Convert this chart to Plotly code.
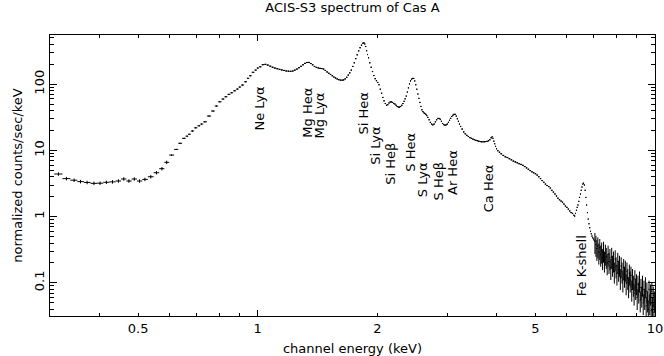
import numpy as np
import plotly.graph_objects as go

# ---------------- data ----------------
e_soft = [0.315, 0.330, 0.345, 0.358, 0.372, 0.387, 0.401, 0.416, 0.431, 0.446,
          0.460, 0.474, 0.489, 0.504, 0.520, 0.538, 0.556, 0.574, 0.590]
c_soft = [4.4, 3.75, 3.55, 3.38, 3.28, 3.18, 3.2, 3.3, 3.35, 3.45,
          3.7, 3.45, 3.7, 3.45, 3.65, 4.0, 4.6, 5.3, 6.6]

e_mid = [0.607, 0.625, 0.637, 0.653, 0.664, 0.672, 0.685, 0.698, 0.712, 0.722,
         0.736, 0.754, 0.772, 0.787, 0.803, 0.818, 0.831, 0.847, 0.860, 0.875,
         0.889, 0.901, 0.915, 0.933, 0.945, 0.958, 0.973, 0.989,
         1.000, 1.015, 1.030, 1.045, 1.060, 1.075, 1.090, 1.105, 1.120, 1.135,
         1.150, 1.165, 1.180, 1.195, 1.210, 1.225, 1.240, 1.255, 1.270, 1.285,
         1.300, 1.315, 1.330, 1.345, 1.360, 1.375, 1.390, 1.405, 1.420, 1.435,
         1.450, 1.465, 1.480, 1.495, 1.510, 1.525, 1.540, 1.555, 1.570, 1.585,
         1.600, 1.615, 1.630, 1.645, 1.660, 1.675, 1.690, 1.705, 1.720, 1.735,
         1.750, 1.765, 1.780, 1.795, 1.810, 1.825, 1.840, 1.850, 1.860, 1.870,
         1.880, 1.890, 1.900, 1.915, 1.930, 1.945, 1.960, 1.975, 1.990, 2.005,
         2.020, 2.035, 2.050, 2.065, 2.080, 2.095, 2.110, 2.125, 2.140, 2.155,
         2.170, 2.185, 2.200, 2.215, 2.230, 2.245, 2.260, 2.275, 2.290, 2.305,
         2.320, 2.335, 2.350, 2.365, 2.380, 2.395, 2.410, 2.425, 2.440, 2.455,
         2.470, 2.485, 2.500, 2.515, 2.530, 2.545, 2.560, 2.575, 2.590, 2.605,
         2.620, 2.635, 2.650, 2.665, 2.680, 2.700, 2.720, 2.740, 2.760, 2.780,
         2.800, 2.820, 2.840, 2.860, 2.880, 2.900, 2.920, 2.940, 2.960, 2.980,
         3.000, 3.020, 3.040, 3.060, 3.080, 3.100, 3.120, 3.140, 3.160, 3.180,
         3.200, 3.220, 3.240, 3.270, 3.300, 3.330, 3.360, 3.390, 3.420, 3.450,
         3.480, 3.510, 3.540, 3.570, 3.600, 3.630, 3.660, 3.690, 3.720, 3.750,
         3.780, 3.810, 3.840, 3.870, 3.890, 3.910, 3.930, 3.950, 3.970, 3.990,
         4.020, 4.060, 4.100, 4.150, 4.200, 4.250, 4.300, 4.350, 4.400, 4.450,
         4.500, 4.550, 4.600, 4.650, 4.700, 4.750, 4.800, 4.850, 4.900, 4.950,
         5.000, 5.050, 5.100, 5.150, 5.200, 5.250, 5.300, 5.350, 5.400, 5.450,
         5.500, 5.550, 5.600, 5.650, 5.700, 5.750, 5.800, 5.850, 5.900, 5.950,
         6.000, 6.050, 6.100, 6.150, 6.200, 6.250, 6.280, 6.310, 6.340, 6.370,
         6.400, 6.430, 6.460, 6.490, 6.520, 6.550, 6.580, 6.610, 6.640, 6.670,
         6.700, 6.730, 6.760, 6.790, 6.820, 6.850, 6.880, 6.910, 6.940, 6.970,
         7.000, 7.030]
c_mid = [8.5, 10.35, 12.8, 15.2, 16.4, 17.5, 19.6, 21.9, 23.5, 25.0,
         27.0, 33.0, 39.3, 46.7, 54.2, 59.6, 64.5, 70.1, 74.2, 79.5,
         84.3, 90.4, 96.9, 108.7, 122.4, 134, 151, 163,
         175, 183, 197, 199, 194, 187, 180, 175, 171, 167,
         164, 161, 158, 157, 156, 158, 163, 169, 177, 186,
         196, 206, 212, 213, 205, 196, 185, 179, 176, 173,
         172, 169, 161, 153, 146, 140, 134, 128, 124, 120,
         117, 115, 115, 116, 120, 127, 137, 148, 163, 185,
         210, 243, 277, 318, 355, 388, 415, 422, 405, 370,
         320, 280, 250, 210, 180, 155, 135, 121, 113, 106,
         98, 84, 73, 63, 56, 51, 48, 49, 52, 54,
         54, 53, 51, 50, 48, 46, 45, 45, 46, 48,
         51, 55, 60, 66, 76, 88, 101, 112, 119, 122,
         122, 112, 98, 84, 71, 61, 53, 46, 41, 38.5,
         37, 36, 35, 33.5, 31.5, 29, 26.5, 25, 24.3, 25,
         27, 29, 30.3, 30.4, 29.5, 27.5, 25.5, 24.5, 24, 24.3,
         25, 26.5, 28.5, 30.5, 32.5, 34, 35, 35, 33, 30,
         27.5, 25, 23, 21, 19, 17.8, 16.9, 16.2, 15.6, 15.2,
         14.8, 14.5, 14.2, 14.0, 13.8, 13.6, 13.5, 13.5, 13.5, 13.6,
         13.7, 14.0, 14.5, 15.5, 16.0, 15.2, 13.8, 12.6, 11.5, 10.6,
         9.9, 9.4, 8.9, 8.4, 8.0, 7.8, 7.5, 7.2, 6.9, 6.7,
         6.5, 6.3, 6.15, 5.95, 5.7, 5.45, 5.2, 4.95, 4.75, 4.6,
         4.45, 4.25, 4.0, 3.75, 3.5, 3.3, 3.1, 2.95, 2.85, 2.7,
         2.5, 2.35, 2.2, 2.05, 1.9, 1.8, 1.72, 1.65, 1.55, 1.45,
         1.38, 1.3, 1.22, 1.15, 1.12, 1.05, 1.02, 1.12, 1.25, 1.38,
         1.5, 1.7, 1.95, 2.2, 2.5, 2.8, 3.1, 3.2, 3.0, 2.5,
         1.95, 1.5, 1.15, 0.92, 0.78, 0.68, 0.6, 0.55, 0.51, 0.48,
         0.46, 0.44]

e_hard = [7.06, 7.10, 7.14, 7.18, 7.22, 7.26, 7.30, 7.34, 7.38, 7.42,
          7.46, 7.50, 7.54, 7.58, 7.62, 7.66, 7.70, 7.74, 7.78, 7.82,
          7.86, 7.90, 7.94, 7.98, 8.02, 8.06, 8.10, 8.14, 8.18, 8.22,
          8.26, 8.30, 8.34, 8.38, 8.42, 8.46, 8.50, 8.54, 8.58, 8.62,
          8.66, 8.70, 8.74, 8.78, 8.82, 8.86, 8.90, 8.94, 8.98, 9.02,
          9.06, 9.10, 9.14, 9.18, 9.22, 9.26, 9.30, 9.34, 9.38, 9.42,
          9.46, 9.50, 9.54, 9.58, 9.62, 9.66, 9.70, 9.74, 9.78, 9.82,
          9.86, 9.90, 9.94, 9.98]
c_hard = [0.42, 0.38, 0.33, 0.36, 0.29, 0.34, 0.27, 0.30, 0.24, 0.31,
          0.22, 0.28, 0.25, 0.20, 0.27, 0.21, 0.24, 0.17, 0.25, 0.19,
          0.22, 0.15, 0.23, 0.18, 0.14, 0.21, 0.16, 0.19, 0.12, 0.18,
          0.15, 0.11, 0.17, 0.13, 0.16, 0.10, 0.15, 0.12, 0.09, 0.14,
          0.11, 0.13, 0.08, 0.12, 0.095, 0.07, 0.115, 0.085, 0.10, 0.06,
          0.095, 0.075, 0.11, 0.055, 0.085, 0.065, 0.095, 0.05, 0.08, 0.06,
          0.09, 0.045, 0.075, 0.055, 0.04, 0.08, 0.05, 0.07, 0.038, 0.075,
          0.045, 0.065, 0.036, 0.055]

# relative 1-sigma errors (percent) per segment
err_soft, err_mid, err_hard = 6, 2, 35

line_names = ["Ne Lyα", "Mg Heα", "Mg Lyα", "Si Heα", "Si Lyα", "Si Heβ",
              "S Heα", "S Lyα", "S Heβ", "Ar Heα", "Ca Heα", "Fe K-shell"]
line_energy = [1.01, 1.335, 1.43, 1.845, 1.97, 2.15, 2.42, 2.60, 2.85, 3.09, 3.80, 6.53]
line_base = [18.9, 14.3, 14.3, 16.4, 5.6, 2.8, 4.4, 1.84, 1.66, 1.97, 1.09, 0.0587]

x_ticks = [0.5, 1.0, 2.0, 5.0, 10.0]
x_ticktext = ["0.5", "1", "2", "5", "10"]
x_major = [1.0, 10.0]
x_minor = [0.4, 0.6, 0.7, 0.8, 0.9, 3, 4, 6, 7, 8, 9]
y_ticks = [0.1, 1, 10, 100]
y_ticktext = ["0.1", "1", "10", "100"]

# ---------------- bin widths from the channel centres ----------------
all_e = np.array(e_soft + e_mid + e_hard)
mids = (all_e[1:] + all_e[:-1]) / 2
lo = np.concatenate([[all_e[0] - (mids[0] - all_e[0])], mids])
hi = np.concatenate([mids, [all_e[-1] + (all_e[-1] - mids[-1])]])
plus_all = hi - all_e
minus_all = all_e - lo

n1, n2 = len(e_soft), len(e_soft) + len(e_mid)
segments = [(e_soft, c_soft, err_soft, slice(0, n1)),
            (e_mid, c_mid, err_mid, slice(n1, n2)),
            (e_hard, c_hard, err_hard, slice(n2, None))]

FONT = "DejaVu Sans"
TXT = dict(family=FONT, size=13, color="black")
fig = go.Figure()
for e, c, err, sl in segments:
    fig.add_trace(go.Scatter(
        x=e, y=c, mode="markers",
        marker=dict(size=1, color="black"),
        error_x=dict(type="data", symmetric=False, array=plus_all[sl], arrayminus=minus_all[sl],
                     width=0, thickness=1, color="black"),
        error_y=dict(type="percent", value=err, width=0, thickness=1, color="black"),
        showlegend=False, hoverinfo="skip"))

# invisible anchor for second x axis (long major ticks)
fig.add_trace(go.Scatter(x=[], y=[], xaxis="x2", showlegend=False, hoverinfo="skip"))

for name, e, b in zip(line_names, line_energy, line_base):
    fig.add_annotation(x=np.log10(e), y=np.log10(b), xref="x", yref="y", text=name,
                       textangle=-90, showarrow=False, xanchor="center", yanchor="bottom",
                       font=TXT)

axis_common = dict(showgrid=False, zeroline=False, showline=True, linecolor="black",
                   linewidth=1, ticks="inside", tickcolor="black", tickwidth=1, mirror="ticks",
                   tickfont=TXT)

fig.update_layout(
    width=664, height=356,
    margin=dict(l=50, r=9, t=35, b=40, autoexpand=False),
    paper_bgcolor="white", plot_bgcolor="white",
    font=TXT,
    hovermode=False,
    title=dict(text="ACIS-S3 spectrum of Cas A", x=0.5, xref="paper", xanchor="center",
               y=0.978, yanchor="middle", font=TXT),
    xaxis=dict(type="log", range=[np.log10(0.3), 1], tickmode="array", tickvals=x_ticks,
               ticktext=x_ticktext, ticklen=3,
               minor=dict(tickmode="array", tickvals=x_minor, ticks="inside", ticklen=3,
                          tickcolor="black", showgrid=False),
               title=dict(text="channel energy (keV)", standoff=10, font=TXT), **axis_common),
    xaxis2=dict(type="log", matches="x", overlaying="x", anchor="y", side="bottom",
                tickmode="array", tickvals=x_major, showticklabels=False, ticklen=6,
                **axis_common),
    yaxis=dict(type="log", range=[-1.5, 2.742], tickmode="array", tickvals=y_ticks,
               ticktext=y_ticktext, tickangle=-90, ticklen=7,
               minor=dict(tickmode="array",
                          tickvals=[m * 10.0 ** d for d in range(-2, 3) for m in range(2, 10)],
                          ticks="inside", ticklen=4, tickcolor="black", showgrid=False),
               title=dict(text="normalized counts/sec/keV", standoff=6, font=TXT), **axis_common),
)

fig.write_html("out.html", config={"displayModeBar": False, "staticPlot": True},
               post_script="document.body.style.margin='0';document.body.style.overflow='hidden';")
